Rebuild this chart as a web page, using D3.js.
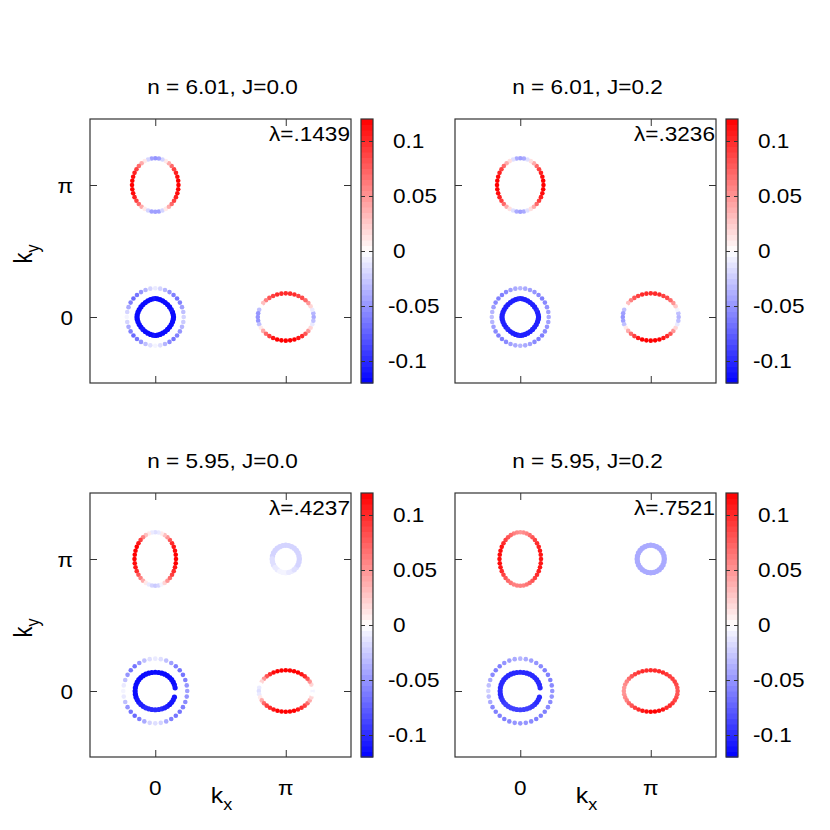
<!DOCTYPE html>
<html>
<head>
<meta charset="utf-8">
<script src="https://cdn.jsdelivr.net/npm/d3@7"></script>
<style>
  body { margin: 0; background: #fff; }
  text { font-family: "Liberation Sans", Arial, sans-serif; fill: #000; }
</style>
</head>
<body>
<div id="chart"></div>
<script>
const titles = ["n = 6.01, J=0.0", "n = 6.01, J=0.2", "n = 5.95, J=0.0", "n = 5.95, J=0.2"];
const lambdas = ["λ=.1439", "λ=.3236", "λ=.4237", "λ=.7521"];
const kTicks = [0, 1];              // units of π
const kTickLabels = ["0", "π"];
const cbTicks = [-0.1, -0.05, 0, 0.05, 0.1];
const cbLimits = [-0.12, 0.12];

// Fermi sheets: (0,π) pocket, (π,0) pocket, outer Γ, inner Γ, (π,π) pocket
// centres and half axes in units of π, plus a shape exponent (2 = ellipse)
const sheetKx = [0, 1, 0, 0, 1];
const sheetKy = [1, 0, 0, 0, 1];
const radX601 = [0.178, 0.214, 0.218, 0.140];
const radY601 = [0.203, 0.179, 0.218, 0.140];
const shape601 = [2, 2, 2, 1.75];
const radX595 = [0.159, 0.206, 0.245, 0.154, 0.104];
const radY595 = [0.203, 0.157, 0.245, 0.142, 0.104];
const shape595 = [2, 2, 2, 2.1, 2];

// gap values on each sheet, going round counter-clockwise from +kx
const g601J00_0pi = [.12,.12,.115,.105,.09,.07,.04,.01,-.02,-.045, -.05,-.045,-.02,.01,.04,.07,.09,.105,.115,.12,
                     .12,.12,.115,.105,.09,.07,.04,.01,-.02,-.045, -.045,-.045,-.02,.01,.04,.07,.09,.105,.115,.12];
const g601J00_pi0 = [-.04,-.035,-.01,.02,.05,.07,.085,.09,.1,.1, .1,.1,.1,.09,.08,.06,.03,0,-.03,-.05,
                     -.05,-.05,-.03,.01,.04,.07,.09,.11,.12,.12, .12,.12,.12,.11,.1,.08,.05,.02,-.01,-.03];
const g601J00_outer = [-.02,-.03,-.045,-.06,-.065,-.06,-.05,-.035,-.02, -.01,-.02,-.035,-.05,-.065,-.07,-.06,-.04,-.02,
                       -.005,-.02,-.04,-.06,-.07,-.065,-.05,-.03,-.015, -.005,-.015,-.035,-.055,-.065,-.06,-.05,-.035,-.025];
const g601J00_inner = [-.115,-.115,-.115,-.11,-.115,-.115,-.115,-.115,-.115,-.115, -.115,-.11,-.115,-.115,-.115,-.115,-.115,-.115,-.115,-.115,
                       -.115,-.115,-.115,-.115,-.115,-.11,-.115,-.115,-.115,-.115, -.11,-.115,-.115,-.115,-.115,-.115,-.115,-.115,-.115,-.115];

const g601J02_0pi = [.12,.12,.115,.105,.09,.07,.04,.015,-.015,-.04, -.045,-.04,-.015,.015,.04,.07,.09,.105,.115,.12,
                     .12,.12,.115,.105,.09,.07,.04,.015,-.015,-.04, -.045,-.04,-.015,.015,.04,.07,.09,.105,.115,.12];
const g601J02_pi0 = [-.035,-.03,-.005,.025,.05,.07,.085,.09,.1,.1, .1,.1,.1,.09,.08,.06,.03,0,-.03,-.045,
                     -.05,-.045,-.03,.01,.04,.07,.09,.11,.12,.12, .12,.12,.12,.11,.1,.08,.05,.02,-.01,-.03];
const g601J02_outer = [-.04,-.045,-.05,-.055,-.06,-.055,-.05,-.045,-.04, -.035,-.04,-.045,-.055,-.06,-.06,-.055,-.045,-.035,
                       -.03,-.035,-.045,-.055,-.06,-.06,-.055,-.045,-.04, -.035,-.04,-.045,-.055,-.06,-.06,-.055,-.05,-.045];
const g601J02_inner = [-.105,-.105,-.105,-.1,-.105,-.105,-.105,-.105,-.105,-.105, -.105,-.1,-.105,-.105,-.105,-.105,-.105,-.105,-.105,-.105,
                       -.105,-.105,-.105,-.105,-.105,-.1,-.105,-.105,-.105,-.105, -.1,-.105,-.105,-.105,-.105,-.105,-.105,-.105,-.105,-.105];

const g595J00_0pi = [.12,.12,.115,.11,.1,.08,.05,.03,.01,-.01, -.015,-.01,.01,.03,.06,.09,.11,.12,.12,.12,
                     .12,.115,.11,.1,.08,.06,.04,.01,-.01,-.02, -.025,-.02,-.005,.02,.05,.07,.09,.1,.11,.12];
const g595J00_pi0 = [-.005,0,.02,.05,.08,.1,.11,.12,.12,.12, .12,.12,.12,.115,.1,.08,.05,.02,0,-.01,
                     -.015,-.01,.01,.04,.07,.09,.1,.11,.12,.12, .12,.12,.12,.11,.1,.09,.07,.04,.02,0];
const g595J00_outer = [-.045,-.05,-.06,-.065,-.065,-.06,-.045,-.03,-.015, -.01,-.015,-.03,-.05,-.065,-.065,-.05,-.03,-.01,
                       -.005,-.01,-.03,-.05,-.065,-.07,-.06,-.04,-.02, -.015,-.02,-.04,-.06,-.065,-.065,-.06,-.055,-.05];
const g595J00_inner = [null,-.11,-.11,-.115,-.115,-.115,-.115,-.115,-.115,-.115, -.115,-.115,-.115,-.115,-.115,-.115,-.115,-.115,-.115,-.115,
                       -.115,-.115,-.115,-.11,-.11,-.105,-.105,-.1,-.1,-.1, -.1,-.1,-.1,-.105,-.105,-.11,-.11,-.11,-.11,null];
const g595J00_pipi = [-.02,-.02,-.02,-.02,-.02,-.02,-.02,-.02,-.02,-.02,-.02,-.02,-.02,-.02,
                      -.015,-.015,-.015,-.01,-.01,-.005,-.005,-.005,-.01,-.01,-.015,-.015,-.02,-.02];

const g595J02_0pi = [.11,.11,.11,.105,.1,.09,.08,.07,.06,.055, .05,.055,.06,.07,.08,.09,.1,.11,.115,.115,
                     .115,.115,.11,.1,.09,.08,.07,.065,.06,.06, .06,.06,.065,.07,.08,.09,.1,.105,.11,.11];
const g595J02_pi0 = [.08,.08,.085,.09,.09,.09,.095,.1,.1,.1, .1,.1,.1,.095,.09,.08,.07,.06,.055,.05,
                     .05,.05,.055,.06,.07,.08,.09,.1,.11,.115, .12,.12,.115,.11,.1,.1,.095,.09,.085,.08];
const g595J02_outer = [-.05,-.055,-.06,-.06,-.06,-.055,-.05,-.045,-.04, -.035,-.04,-.045,-.05,-.06,-.06,-.055,-.04,-.03,
                       -.02,-.03,-.04,-.055,-.06,-.06,-.06,-.055,-.05, -.05,-.05,-.055,-.06,-.06,-.06,-.055,-.055,-.05];
const g595J02_inner = [null,-.1,-.1,-.1,-.1,-.1,-.1,-.1,-.1,-.1, -.1,-.1,-.1,-.1,-.1,-.1,-.1,-.1,-.1,-.1,
                       -.1,-.1,-.1,-.095,-.095,-.09,-.09,-.09,-.09,-.09, -.09,-.09,-.09,-.09,-.095,-.095,-.1,-.1,-.1,null];
const g595J02_pipi = [-.04,-.04,-.04,-.04,-.04,-.04,-.04,-.04,-.04,-.04,-.04,-.04,-.04,-.04,
                      -.04,-.04,-.04,-.04,-.04,-.04,-.04,-.04,-.04,-.04,-.04,-.04,-.04,-.04];

const panels = [
  { rx: radX601, ry: radY601, shape: shape601, gaps: [g601J00_0pi, g601J00_pi0, g601J00_outer, g601J00_inner] },
  { rx: radX601, ry: radY601, shape: shape601, gaps: [g601J02_0pi, g601J02_pi0, g601J02_outer, g601J02_inner] },
  { rx: radX595, ry: radY595, shape: shape595, gaps: [g595J00_0pi, g595J00_pi0, g595J00_outer, g595J00_inner, g595J00_pipi] },
  { rx: radX595, ry: radY595, shape: shape595, gaps: [g595J02_0pi, g595J02_pi0, g595J02_outer, g595J02_inner, g595J02_pipi] }
];

const canvasWidth = 830, canvasHeight = 830;
const panelW = 261, panelH = 264;
const lefts = [90, 455], tops = [119, 493];
const dotRadius = [2.3, 2.3, 2.3, 2.6, 2.7];
const stretch = 1.13;      // glyphs in the original are a little wide
const frameColor = "#333";

const svg = d3.select("#chart").append("svg")
    .attr("width", canvasWidth)
    .attr("height", canvasHeight);

const xScale = d3.scaleLinear().domain([-0.5, 1.5]).range([0, panelW]);
const yScale = d3.scaleLinear().domain([-0.5, 1.5]).range([panelH, 0]);
const cbScale = d3.scaleLinear().domain(cbLimits).range([panelH, 0]);
const colour = d3.scaleLinear()
    .domain([cbLimits[0], 0, cbLimits[1]])
    .range(["#0000ff", "#ffffff", "#ff0000"])
    .clamp(true);

const label = (g, x, y, txt, anchor, size = 20) =>
  g.append("text")
    .attr("transform", `translate(${x},${y}) scale(${stretch},1)`)
    .attr("text-anchor", anchor)
    .attr("font-size", size)
    .text(txt);

const ringPoints = (p, j) => {
  const vals = p.gaps[j];
  const n = vals.length, e = 2 / p.shape[j];
  return vals.map((v, i) => {
    const t = 2 * Math.PI * i / n;
    const c = Math.cos(t), s = Math.sin(t);
    return {
      kx: sheetKx[j] + p.rx[j] * Math.sign(c) * Math.pow(Math.abs(c), e),
      ky: sheetKy[j] + p.ry[j] * Math.sign(s) * Math.pow(Math.abs(s), e),
      v: v
    };
  }).filter(d => d.v !== null);
};

const inwardTicks = (axis) => axis.tickValues(kTicks).tickSize(-7).tickFormat(() => "");

panels.forEach((p, idx) => {
  const col = idx % 2, row = Math.floor(idx / 2);
  const g = svg.append("g").attr("transform", `translate(${lefts[col]},${tops[row]})`);

  // sheets
  p.gaps.forEach((vals, j) => {
    g.append("g").selectAll("circle")
      .data(ringPoints(p, j))
      .join("circle")
      .attr("cx", d => xScale(d.kx))
      .attr("cy", d => yScale(d.ky))
      .attr("r", dotRadius[j])
      .attr("fill", d => colour(d.v));
  });

  // frame + inward ticks on all sides
  [[d3.axisBottom(xScale), `translate(0,${panelH})`],
   [d3.axisTop(xScale), "translate(0,0)"],
   [d3.axisLeft(yScale), "translate(0,0)"],
   [d3.axisRight(yScale), `translate(${panelW},0)`]].forEach(([ax, tr]) => {
    const a = g.append("g").attr("transform", tr).call(inwardTicks(ax));
    a.select(".domain").remove();
    a.selectAll("line").attr("stroke", frameColor);
  });
  g.append("rect")
    .attr("x", 0).attr("y", 0)
    .attr("width", panelW).attr("height", panelH)
    .attr("fill", "none")
    .attr("stroke", frameColor)
    .attr("stroke-width", 1.2);

  label(g, panelW / 2 + 2, -25, titles[idx], "middle");
  label(g, panelW - 1, 22, lambdas[idx], "end");

  if (col === 0) {
    kTicks.forEach((t, i) => label(g, -17, yScale(t) + 8, kTickLabels[i], "end"));
    const ky = g.append("text")
      .attr("transform", `translate(-58,${panelH / 2 + 3}) rotate(-90) scale(1,${stretch})`)
      .attr("text-anchor", "middle")
      .attr("font-size", 22);
    ky.append("tspan").text("k");
    ky.append("tspan").attr("font-size", 16).attr("dy", 6).text("y");
  }
  if (row === 1) {
    kTicks.forEach((t, i) => label(g, xScale(t), panelH + 38, kTickLabels[i], "middle"));
    const kx = g.append("text")
      .attr("transform", `translate(${panelW / 2 + 1},${panelH + 46}) scale(${stretch},1)`)
      .attr("text-anchor", "middle")
      .attr("font-size", 22);
    kx.append("tspan").text("k");
    kx.append("tspan").attr("font-size", 16).attr("dy", 7).text("x");
  }

  // colour box
  const cb = g.append("g").attr("transform", `translate(${panelW + 10},0)`);
  const cbW = 12;
  const steps = d3.range(cbLimits[0], cbLimits[1] - 1e-9, 0.005);
  cb.selectAll("rect.band")
    .data(steps)
    .join("rect")
    .attr("class", "band")
    .attr("x", 0)
    .attr("width", cbW)
    .attr("y", d => cbScale(d + 0.005))
    .attr("height", d => cbScale(d) - cbScale(d + 0.005) + 0.5)
    .attr("fill", d => colour(d + 0.0025));
  cb.append("rect")
    .attr("width", cbW).attr("height", panelH)
    .attr("fill", "none").attr("stroke", frameColor).attr("stroke-width", 1.2);
  [[d3.axisLeft(cbScale), "translate(0,0)"], [d3.axisRight(cbScale), `translate(${cbW},0)`]].forEach(([ax, tr]) => {
    const a = cb.append("g").attr("transform", tr)
      .call(ax.tickValues(cbTicks).tickSize(-4).tickFormat(() => ""));
    a.select(".domain").remove();
    a.selectAll("line").attr("stroke", frameColor);
  });
  cbTicks.forEach(t =>
    label(cb, cbW + 20 - (t < 0 ? 5 : 0), cbScale(t) + 7, String(t), "start"));
});
</script>
</body>
</html>
